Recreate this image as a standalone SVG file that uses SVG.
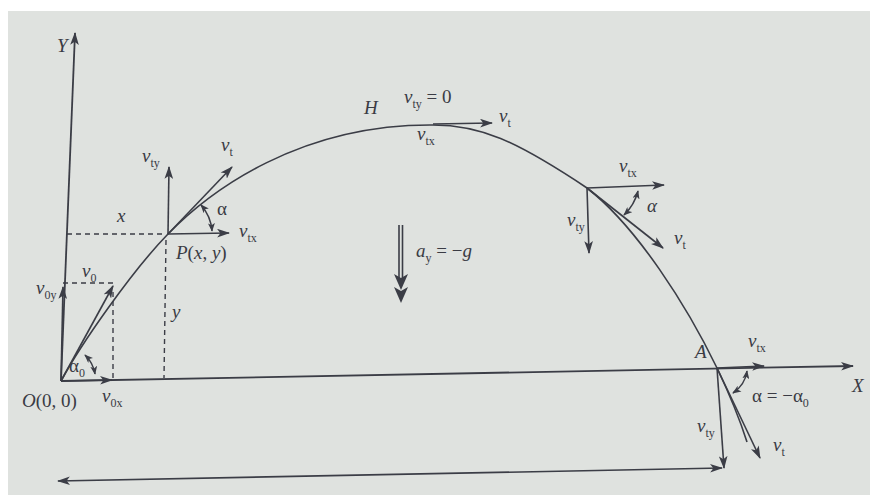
<svg xmlns="http://www.w3.org/2000/svg" width="873" height="495" viewBox="0 0 873 495">
<defs>
<marker id="ah" viewBox="0 0 12 8" refX="11" refY="4" markerWidth="13" markerHeight="9" orient="auto-start-reverse" markerUnits="userSpaceOnUse"><path d="M0,0 L12,4 L0,8 L3,4 z" fill="#3b3d46"/></marker>
<marker id="ahs" viewBox="0 0 10 8" refX="9" refY="4" markerWidth="9" markerHeight="7" orient="auto-start-reverse" markerUnits="userSpaceOnUse"><path d="M0,0 L10,4 L0,8 L2.5,4 z" fill="#3b3d46"/></marker>
</defs>
<style>
.ln{stroke:#3b3d46;stroke-width:1.6;fill:none}
.ax{stroke:#3b3d46;stroke-width:1.8;fill:none}
.ds{stroke:#3b3d46;stroke-width:1.4;fill:none;stroke-dasharray:5,4}
.ar{stroke:#3b3d46;stroke-width:1.6;fill:none;marker-end:url(#ah)}
.arc{stroke:#3b3d46;stroke-width:1.5;fill:none;marker-start:url(#ahs);marker-end:url(#ahs)}
text{font-family:"Liberation Serif","DejaVu Serif",serif;fill:#3a3b44;font-size:19px;font-style:italic}
.sb{font-size:12px;font-style:normal}
.up{font-style:normal}
</style>
<rect x="0" y="0" width="873" height="495" fill="#ffffff"/>
<rect x="8" y="11" width="862" height="484" fill="#dfe2df"/>

<g id="connectors">
<!-- axes -->
<path class="ax" d="M61,381 L75,33" marker-end="url(#ah)"/>
<path class="ax" d="M61,381 L853,366" marker-end="url(#ah)"/>
<!-- trajectory -->
<path class="ln" d="M61,381 C81,344 132,271 168,234 C211,190 300,124 433,125 C480,125 515,140 587,188 C637,227 687,306 717,368 C727,389 740,420 747,442"/>
<!-- initial velocity -->
<path class="ar" d="M61,381 L112,380"/>
<path class="ar" d="M61,381 L63,287"/>
<path class="ar" d="M61,381 L113,286"/>
<path class="ds" d="M63,283 L115,283"/>
<path class="ds" d="M113,292 L113,379"/>
<path class="arc" d="M85,355 A34,34 0 0 1 95,374"/>
<!-- P -->
<path class="ds" d="M67,234 L166,234"/>
<path class="ds" d="M166,240 L164,378"/>
<path class="ar" d="M168,234 L169,167"/>
<path class="ar" d="M168,234 L232,167"/>
<path class="ar" d="M168,234 L229,233"/>
<path class="arc" d="M201,205 A44,44 0 0 1 212,231"/>
<!-- H -->
<path class="ar" d="M433,124 L492,123"/>
<!-- Q -->
<path class="ar" d="M587,188 L664,185"/>
<path class="ar" d="M587,188 L589,253"/>
<path class="ar" d="M587,188 L663,248"/>
<path class="arc" d="M638,191 A50,50 0 0 1 624,215"/>
<!-- A -->
<path class="ar" d="M717,368 L764,366"/>
<path class="ar" d="M717,368 L724,468"/>
<path class="ar" d="M717,368 L760,458"/>
<path class="arc" d="M747,371 A32,32 0 0 1 733,393"/>
<!-- range -->
<path class="ln" d="M58,481 L722,468" marker-start="url(#ah)" marker-end="url(#ah)"/>
<!-- gravity -->
<path class="ln" d="M399,225 L399,282 M402.5,225 L402.5,282"/>
<path d="M394,274 L401,290 L408,274 L401,278 z M394,287 L401,303 L408,287 L401,291 z" fill="#3b3d46"/>
</g>

<g id="axis-labels">
<text x="57" y="52">Y</text>
<text x="852" y="392">X</text>
</g>
<g id="origin">
<text x="22" y="407">O<tspan class="up">(0, 0)</tspan></text>
<text x="102" y="402">v<tspan class="sb" dy="5">0x</tspan></text>
<text x="36" y="294">v<tspan class="sb" dy="5">0y</tspan></text>
<text x="82" y="277">v<tspan class="sb" dy="5">0</tspan></text>
<text x="69" y="372" class="up">α<tspan class="sb" dy="5">0</tspan></text>
</g>
<g id="point-P">
<text x="117" y="222">x</text>
<text x="172" y="318">y</text>
<text x="176" y="259">P<tspan class="up">(</tspan>x<tspan class="up">, </tspan>y<tspan class="up">)</tspan></text>
<text x="142" y="162">v<tspan class="sb" dy="5">ty</tspan></text>
<text x="221" y="151">v<tspan class="sb" dy="5">t</tspan></text>
<text x="217" y="215" class="up">α</text>
<text x="239" y="237">v<tspan class="sb" dy="5">tx</tspan></text>
</g>
<g id="point-H">
<text x="364" y="114">H</text>
<text x="404" y="103">v<tspan class="sb" dy="5">ty</tspan><tspan class="up" dy="-5"> = 0</tspan></text>
<text x="499" y="122">v<tspan class="sb" dy="5">t</tspan></text>
<text x="417" y="140">v<tspan class="sb" dy="5">tx</tspan></text>
</g>
<g id="gravity">
<text x="416" y="257">a<tspan class="sb" dy="5">y</tspan><tspan class="up" dy="-5"> = −</tspan>g</text>
</g>
<g id="point-Q">
<text x="619" y="172">v<tspan class="sb" dy="5">tx</tspan></text>
<text x="647" y="212">α</text>
<text x="567" y="226">v<tspan class="sb" dy="5">ty</tspan></text>
<text x="674" y="244">v<tspan class="sb" dy="5">t</tspan></text>
</g>
<g id="point-A">
<text x="695" y="358">A</text>
<text x="748" y="347">v<tspan class="sb" dy="5">tx</tspan></text>
<text x="752" y="402" class="up">α = −α<tspan class="sb" dy="5">0</tspan></text>
<text x="697" y="432">v<tspan class="sb" dy="5">ty</tspan></text>
<text x="773" y="451">v<tspan class="sb" dy="5">t</tspan></text>
</g>
</svg>
